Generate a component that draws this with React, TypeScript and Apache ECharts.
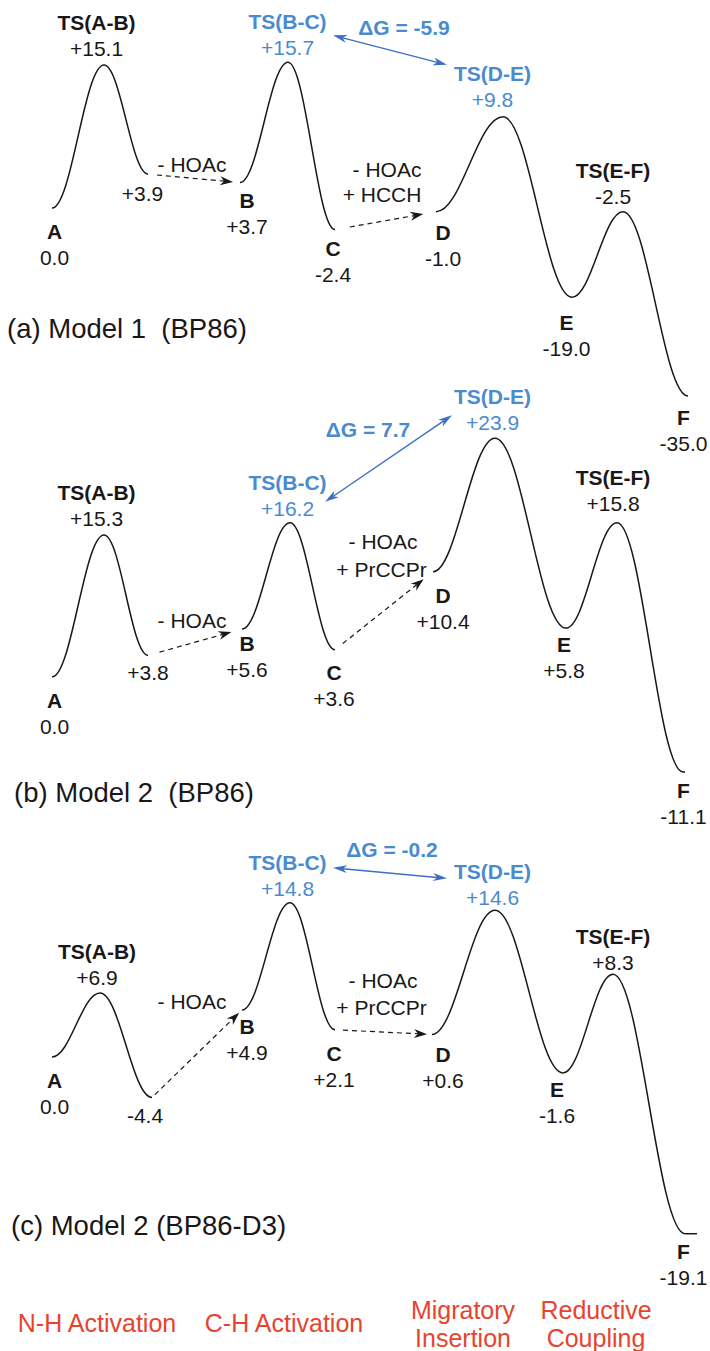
import React, { useEffect, useRef } from "react";
import * as echarts from "echarts";

const FONT = '"Liberation Sans", Arial, Helvetica, sans-serif';
const INK = "#1a1718";
const BLUE_TEXT = "#4a8bd0";
const BLUE_LINE = "#3c6fc3";
const RED = "#e8432e";

// Stationary points along the reaction coordinate ("" = unnamed intermediate)
const stationNames = ["A", "TS(A-B)", "", "B", "TS(B-C)", "C", "D", "TS(D-E)", "E", "TS(E-F)", "F"];
const highlighted = [4, 7];

// Relative free energies (kcal/mol) shown as labels
const energyA = [0.0, 15.1, 3.9, 3.7, 15.7, -2.4, -1.0, 9.8, -19.0, -2.5, -35.0];
const energyB = [0.0, 15.3, 3.8, 5.6, 16.2, 3.6, 10.4, 23.9, 5.8, 15.8, -11.1];
const energyC = [0.0, 6.9, -4.4, 4.9, 14.8, 2.1, 0.6, 14.6, -1.6, 8.3, -19.1];

// Schematic level at which each point is drawn
const levelA = [0.0, 15.2, 3.6, 2.7, 15.5, -2.3, -0.4, 9.7, -9.5, -0.4, -20.0];
const levelB = [0.0, 15.1, 2.3, 5.1, 16.4, 2.9, 11.2, 25.4, 5.2, 16.4, -10.1];
const levelC = [0.0, 6.8, -4.3, 5.0, 16.4, 2.9, 2.4, 15.6, -1.7, 8.8, -18.8];

// Reaction coordinate of each point
const coordA = [5.2, 10.4, 14.8, 24.0, 28.8, 33.5, 43.6, 50.3, 57.2, 62.3, 68.8];
const coordB = [5.2, 10.4, 14.8, 24.2, 29.0, 33.5, 43.3, 49.5, 56.6, 61.7, 68.3];
const coordC = [5.2, 10.0, 15.2, 24.2, 29.0, 33.5, 43.2, 49.5, 56.3, 61.3, 68.5];

const panelTitles = ["(a) Model 1  (BP86)", "(b) Model 2  (BP86)", "(c) Model 2 (BP86-D3)"];
const reagentsIB = ["- HOAc", "- HOAc", "- HOAc"];
const reagentsCD = [
  ["- HOAc", "+ HCCH"],
  ["- HOAc", "+ PrCCPr"],
  ["- HOAc", "+ PrCCPr"],
];
const stageLabels = ["N-H Activation", "C-H Activation", "Migratory\nInsertion", "Reductive\nCoupling"];

const solidPairs = [[0, 1], [1, 2], [3, 4], [4, 5], [6, 7], [7, 8], [8, 9], [9, 10]];
const dashedPairs = [[2, 3], [5, 6]];
const comparePair = [4, 7];

// ---------- layout (pixels) ----------
const SCALE = 9.4; // px per level unit
const K = 0.38; // bezier handle factor
const layouts = [
  {
    baseline: 208, max: 22, min: -24, tail: 0,
    labelOffsets: [[2.5, 36.5], [-7.5, -29.5], [-5.5, 19], [7, 31], [-0.5, -27.5], [-2, 32], [7, 33.5], [-10.5, -30], [-5.5, 38], [-10, -28.5], [-4.5, 34]],
    dashIB: [9, 7], dashCD: [15, 13],
    cmpStart: [45, -27], cmpEnd: [-56, -52], dG: [14, -23],
    noteIB: [-48, -18], noteCD: [[-49, -42], [-54, -17]],
    title: [7, 328],
  },
  {
    baseline: 677, max: 28, min: -14, tail: 2,
    labelOffsets: [[2.5, 36.5], [-7.5, -30], [0, 17], [5, 27.5], [-2.5, -27.5], [-1, 35.5], [10, 37], [-2.5, -28.5], [-2, 29], [-4, -32.5], [0.5, 32]],
    dashIB: [12, 11], dashCD: [10, 12],
    cmpStart: [35, -21], cmpEnd: [-43, -23], dG: [-20.5, -29.5],
    noteIB: [-50, -9], noteCD: [[-50, -30], [-51.5, -2]],
    title: [14, 792],
  },
  {
    baseline: 1057, max: 18, min: -22, tail: 12,
    labelOffsets: [[2.5, 36], [-3, -28.5], [-7, 18], [5, 29], [-2.5, -27.5], [-1, 36.5], [11, 33.5], [-2.5, -26], [-6, 30], [0, -24.5], [-1.5, 31]],
    dashIB: [4, 4], dashCD: [8, 5],
    cmpStart: [43, -35], cmpEnd: [-48, -32], dG: [2, -24],
    noteIB: [-50, -9], noteCD: [[-49, -54], [-50.5, -27]],
    title: [11, 1225],
  },
];
const stagePos = [[97, 1323], [284, 1323], [463, 1324], [596, 1324]];

const panels = [
  { coord: coordA, level: levelA, energy: energyA },
  { coord: coordB, level: levelB, energy: energyB },
  { coord: coordC, level: levelC, energy: energyC },
];

function fmtE(v: number) {
  if (v === 0) return "0.0";
  return v > 0 ? "+" + v.toFixed(1) : v.toFixed(1);
}

function arrowHead(tx: number, ty: number, ux: number, uy: number, len: number, half: number, notch: number) {
  const nx = -uy, ny = ux;
  const bx = tx - ux * len, by = ty - uy * len;
  return [
    [tx, ty],
    [bx + nx * half, by + ny * half],
    [tx - ux * (len - notch), ty - uy * (len - notch)],
    [bx - nx * half, by - ny * half],
  ];
}

function textEl(x: number, y: number, text: string, opts: any = {}) {
  return {
    type: "text",
    x, y,
    style: {
      text,
      fill: opts.fill || INK,
      fontSize: opts.fontSize || 21,
      fontWeight: opts.fontWeight || "normal",
      fontFamily: FONT,
      align: opts.align || "center",
      verticalAlign: "middle",
    },
  };
}

function makeRender(pi: number) {
  const L = layouts[pi];
  const energy = panels[pi].energy;
  return (params: any, api: any) => {
    const kind = api.value(4);
    const sub = api.value(5);
    const p0 = api.coord([api.value(0), api.value(1)]);
    const p1 = api.coord([api.value(2), api.value(3)]);
    if (kind === 0) {
      const dx = p1[0] - p0[0];
      const children: any[] = [
        {
          type: "bezierCurve",
          shape: { x1: p0[0], y1: p0[1], x2: p1[0], y2: p1[1], cpx1: p0[0] + K * dx, cpy1: p0[1], cpx2: p1[0] - K * dx, cpy2: p1[1] },
          style: { stroke: INK, lineWidth: 1.5, fill: "none" },
        },
      ];
      if (sub === 1 && L.tail > 0) {
        children.push({ type: "line", shape: { x1: p1[0], y1: p1[1], x2: p1[0] + L.tail, y2: p1[1] }, style: { stroke: INK, lineWidth: 1.5 } });
      }
      return { type: "group", children };
    }
    if (kind === 1) {
      const dx = p1[0] - p0[0], dy = p1[1] - p0[1];
      const len = Math.hypot(dx, dy);
      const ux = dx / len, uy = dy / len;
      const gaps = sub === 0 ? L.dashIB : L.dashCD;
      const sx = p0[0] + ux * gaps[0], sy = p0[1] + uy * gaps[0];
      const tx = p1[0] - ux * gaps[1], ty = p1[1] - uy * gaps[1];
      const HL = 13, HW = 4.5, HN = 4;
      const children: any[] = [
        { type: "line", shape: { x1: sx, y1: sy, x2: tx - ux * (HL - HN), y2: ty - uy * (HL - HN) }, style: { stroke: INK, lineWidth: 1.2, lineDash: [5, 4] } },
        { type: "polygon", shape: { points: arrowHead(tx, ty, ux, uy, HL, HW, HN) }, style: { fill: INK } },
      ];
      if (sub === 0) {
        children.push(textEl(p1[0] + L.noteIB[0], p1[1] + L.noteIB[1], reagentsIB[pi]));
      } else {
        reagentsCD[pi].forEach((t, i) => {
          children.push(textEl(p1[0] + L.noteCD[i][0], p1[1] + L.noteCD[i][1], t));
        });
      }
      return { type: "group", children };
    }
    // kind 2: comparison between the two TS
    const sx = p0[0] + L.cmpStart[0], sy = p0[1] + L.cmpStart[1];
    const ex = p1[0] + L.cmpEnd[0], ey = p1[1] + L.cmpEnd[1];
    const dx = ex - sx, dy = ey - sy;
    const len = Math.hypot(dx, dy);
    const ux = dx / len, uy = dy / len;
    const HL = 14, HW = 4, HN = 4;
    const dG = energy[comparePair[1]] - energy[comparePair[0]];
    return {
      type: "group",
      children: [
        { type: "line", shape: { x1: sx + ux * (HL - HN), y1: sy + uy * (HL - HN), x2: ex - ux * (HL - HN), y2: ey - uy * (HL - HN) }, style: { stroke: BLUE_LINE, lineWidth: 1.4 } },
        { type: "polygon", shape: { points: arrowHead(ex, ey, ux, uy, HL, HW, HN) }, style: { fill: BLUE_LINE } },
        { type: "polygon", shape: { points: arrowHead(sx, sy, -ux, -uy, HL, HW, HN) }, style: { fill: BLUE_LINE } },
        textEl((sx + ex) / 2 + L.dG[0], (sy + ey) / 2 + L.dG[1], "\u0394G = " + dG.toFixed(1), { fill: BLUE_TEXT, fontWeight: "bold" }),
      ],
    };
  };
}

function buildOption() {
  const grids: any[] = [];
  const xAxes: any[] = [];
  const yAxes: any[] = [];
  const series: any[] = [];
  panels.forEach((p, pi) => {
    const L = layouts[pi];
    grids.push({ left: 0, width: 710, top: L.baseline - L.max * SCALE, height: (L.max - L.min) * SCALE, containLabel: false });
    xAxes.push({ type: "value", gridIndex: pi, min: 0, max: 71, show: false });
    yAxes.push({ type: "value", gridIndex: pi, min: L.min, max: L.max, show: false });

    const segData = [
      ...solidPairs.map(([i, j], k) => [p.coord[i], p.level[i], p.coord[j], p.level[j], 0, k === solidPairs.length - 1 ? 1 : 0]),
      ...dashedPairs.map(([i, j], k) => [p.coord[i], p.level[i], p.coord[j], p.level[j], 1, k]),
      [p.coord[comparePair[0]], p.level[comparePair[0]], p.coord[comparePair[1]], p.level[comparePair[1]], 2, 0],
    ];
    series.push({
      type: "custom",
      xAxisIndex: pi,
      yAxisIndex: pi,
      clip: false,
      silent: true,
      renderItem: makeRender(pi),
      encode: { x: [0, 2], y: [1, 3] },
      data: segData,
      z: 2,
    });

    const texts = stationNames.map((n, i) => {
      const blue = highlighted.indexOf(i) >= 0;
      const v = fmtE(p.energy[i]);
      if (!n) return `{v|${v}}`;
      return blue ? `{nb|${n}}\n{vb|${v}}` : `{n|${n}}\n{v|${v}}`;
    });
    const base = { fontFamily: FONT, fontSize: 21, lineHeight: 26, align: "center", textBorderWidth: 0, textShadowBlur: 0, opacity: 1 };
    series.push({
      type: "scatter",
      xAxisIndex: pi,
      yAxisIndex: pi,
      silent: true,
      symbolSize: 1,
      itemStyle: { color: "rgba(255,255,255,0)" },
      z: 3,
      label: {
        show: true,
        position: "inside",
        align: "center",
        verticalAlign: "middle",
        color: INK,
        opacity: 1,
        textBorderWidth: 0,
        textBorderColor: "transparent",
        formatter: (prm: any) => texts[prm.dataIndex],
        rich: {
          n: { ...base, fontWeight: "bold", color: INK },
          v: { ...base, color: INK },
          nb: { ...base, fontWeight: "bold", color: BLUE_TEXT },
          vb: { ...base, color: BLUE_TEXT },
        },
      },
      data: p.coord.map((x, i) => ({ value: [x, p.level[i]], label: { offset: layouts[pi].labelOffsets[i] } })),
    });
  });

  const graphic: any[] = [];
  panelTitles.forEach((t, i) => {
    graphic.push({
      type: "text",
      x: layouts[i].title[0],
      y: layouts[i].title[1],
      style: { text: t, fill: INK, fontSize: 27.5, fontFamily: FONT, align: "left", verticalAlign: "middle" },
    });
  });
  stageLabels.forEach((t, i) => {
    graphic.push({
      type: "text",
      x: stagePos[i][0],
      y: stagePos[i][1],
      style: { text: t, fill: RED, fontSize: 25, fontFamily: FONT, align: "center", verticalAlign: "middle", lineHeight: 28 },
    });
  });

  return {
    animation: false,
    backgroundColor: "#ffffff",
    grid: grids,
    xAxis: xAxes,
    yAxis: yAxes,
    series,
    graphic,
  };
}

export default function App() {
  const ref = useRef<HTMLDivElement>(null);
  useEffect(() => {
    if (!ref.current) return;
    const chart = echarts.init(ref.current, undefined, { renderer: "svg" });
    chart.setOption(buildOption() as any);
    return () => chart.dispose();
  }, []);
  return <div ref={ref} style={{ position: "absolute", left: 0, top: 0, width: 710, height: 1351, background: "#fff" }} />;
}
